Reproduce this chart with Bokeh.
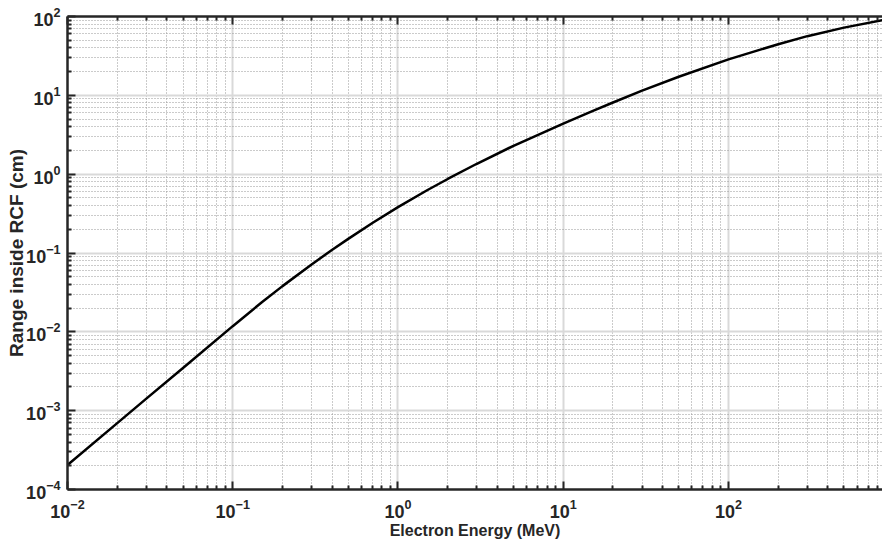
from bokeh.plotting import figure
from bokeh.models import LogAxis, FixedTicker, Range1d
from bokeh.embed import file_html
from bokeh.resources import INLINE

# Electron CSDA range inside radiochromic film (RCF)
energy_mev = [0.01, 0.02, 0.03, 0.05, 0.1, 0.15, 0.2, 0.3, 0.4, 0.5, 0.7, 1.0,
              1.5, 2.0, 3.0, 5.0, 10.0, 15.0, 20.0, 30.0, 50.0, 100.0, 200.0,
              300.0, 500.0, 855.0]
range_cm = [2.05e-4, 6.95e-4, 1.42e-3, 3.48e-3, 1.18e-2, 2.37e-2, 3.80e-2, 7.16e-2,
            0.110, 0.151, 0.240, 0.382, 0.625, 0.869, 1.355, 2.29, 4.37, 6.30, 8.11,
            11.45, 17.2, 28.6, 44.5, 56.3, 72.3, 90.1]

x_decades = [1e-2, 1e-1, 1e0, 1e1, 1e2, 1e3]
y_decades = [1e-4, 1e-3, 1e-2, 1e-1, 1e0, 1e1, 1e2]

x_minor = [m * d for d in x_decades for m in range(2, 10)]
y_minor = [m * d for d in y_decades for m in range(2, 10)]

AXIS_COLOR = "#262626"
TICK_FONT = "Liberation Sans"
LABEL_FONT = "Liberation Sans"

p = figure(width=882, height=548, x_axis_type="log", y_axis_type="log",
           x_range=Range1d(0.01, 855), y_range=Range1d(1e-4, 1e2),
           output_backend="svg", toolbar_location=None,
           min_border_left=67, min_border_right=0, min_border_top=16,
           min_border_bottom=59)
p.outline_line_color = None
p.background_fill_color = "white"
p.border_fill_color = "white"

bottom = p.xaxis[0]
left = p.yaxis[0]

xt = FixedTicker(ticks=x_decades, minor_ticks=x_minor)
yt = FixedTicker(ticks=y_decades, minor_ticks=y_minor)
bottom.ticker = xt
left.ticker = yt
p.xgrid.ticker = xt
p.ygrid.ticker = yt

top = LogAxis(ticker=xt)
p.add_layout(top, "above")

for ax in (bottom, left, top):
    ax.axis_line_width = 2.5
    ax.axis_line_color = AXIS_COLOR
    ax.major_tick_in = 8
    ax.major_tick_out = 0
    ax.minor_tick_in = 4
    ax.minor_tick_out = 0
    ax.major_tick_line_width = 2
    ax.minor_tick_line_width = 2
    ax.major_tick_line_color = AXIS_COLOR
    ax.minor_tick_line_color = AXIS_COLOR
    ax.major_label_text_font = TICK_FONT
    ax.major_label_text_font_style = "bold"
    ax.major_label_text_font_size = "18px"
    ax.major_label_text_color = AXIS_COLOR

# the top edge only carries ticks
top.major_label_text_font_size = "1px"
top.major_label_text_alpha = 0
top.major_label_standoff = 0

bottom.major_label_standoff = 9
left.major_label_standoff = 7

bottom.axis_label = "Electron Energy (MeV)"
left.axis_label = "Range inside RCF (cm)"
for ax, size in ((bottom, "16px"), (left, "19px")):
    ax.axis_label_text_font = LABEL_FONT
    ax.axis_label_text_font_style = "bold"
    ax.axis_label_text_font_size = size
    ax.axis_label_text_color = AXIS_COLOR
bottom.axis_label_standoff = 1
left.axis_label_standoff = -4

for g in (p.xgrid[0], p.ygrid[0]):
    g.grid_line_color = "#d9d9d9"
    g.grid_line_width = 2
    g.minor_grid_line_color = "#969696"
    g.minor_grid_line_width = 1
    g.minor_grid_line_dash = "1 2"

p.line(energy_mev, range_cm, line_color="black", line_width=2.5)

open("out.html", "w").write(file_html(p, INLINE))
